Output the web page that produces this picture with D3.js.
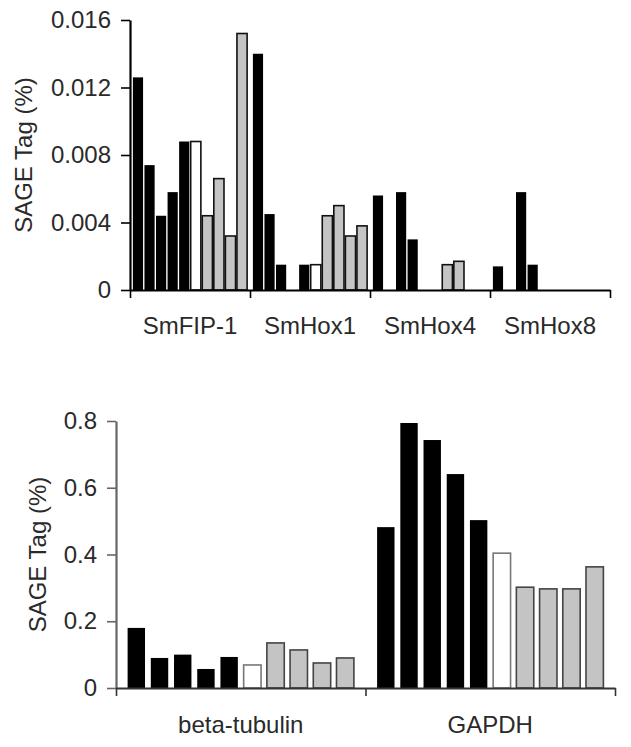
<!DOCTYPE html>
<html>
<head>
<meta charset="utf-8">
<script src="https://cdn.jsdelivr.net/npm/d3@7"></script>
<style>
  html, body { margin: 0; padding: 0; background: #fff; }
  svg { display: block; }
  text { font-family: "Liberation Sans", Arial, sans-serif; }
</style>
</head>
<body>
<svg id="chart" width="631" height="747"></svg>
<script>
// ---- Data ----
const topGenes = ["SmFIP-1", "SmHox1", "SmHox4", "SmHox8"];
const bottomGenes = ["beta-tubulin", "GAPDH"];
const sampleKinds = ["black", "black", "black", "black", "black", "white", "gray", "gray", "gray", "gray"];

const smFIP1 = [0.0126, 0.0074, 0.0044, 0.0058, 0.0088, 0.0088, 0.0044, 0.0066, 0.0032, 0.0152];
const smHox1 = [0.0140, 0.0045, 0.0015, 0, 0.0015, 0.0015, 0.0044, 0.0050, 0.0032, 0.0038];
const smHox4 = [0.0056, 0, 0.0058, 0.0030, 0, 0, 0.0015, 0.0017, 0, 0];
const smHox8 = [0.0014, 0, 0.0058, 0.0015, 0, 0, 0, 0, 0, 0];

const betaTubulin = [0.18, 0.09, 0.10, 0.057, 0.093, 0.069, 0.135, 0.114, 0.075, 0.09];
const gapdh = [0.482, 0.794, 0.743, 0.641, 0.503, 0.404, 0.302, 0.297, 0.297, 0.363];

const topTicks = [0, 0.004, 0.008, 0.012, 0.016];
const topTickLabels = ["0", "0.004", "0.008", "0.012", "0.016"];
const bottomTicks = [0, 0.2, 0.4, 0.6, 0.8];
const bottomTickLabels = ["0", "0.2", "0.4", "0.6", "0.8"];
const yLabel = "SAGE Tag (%)";

const topValues = [smFIP1, smHox1, smHox4, smHox8];
const bottomValues = [betaTubulin, gapdh];

// ---- Styles ----
const fills = { black: "#000", white: "#fff", gray: "#c4c4c4" };
const textColor = "#2a2a2a";
const svg = d3.select("#chart");

function panel(opts) {
  const { genes, values, ticks, tickLabels, x0, x1, yTop, yZero, yMax,
          innerPadIn, innerPadOut, axisColor, yAxisColor, labelBaseline, yLabelX, barStroke, whiteStroke } = opts;
  const g = svg.append("g");
  const xg = d3.scaleBand().domain(genes).range([x0, x1]).paddingInner(0).paddingOuter(0);
  const xs = d3.scaleBand().domain(d3.range(10)).range([0, xg.bandwidth()])
               .paddingInner(innerPadIn).paddingOuter(innerPadOut);
  const y = d3.scaleLinear().domain([0, yMax]).range([yZero, yTop]);

  const rows = [];
  genes.forEach((gene, gi) => values[gi].forEach((v, i) => rows.push({ gene, i, v, kind: sampleKinds[i] })));

  g.append("g").selectAll("rect")
    .data(rows.filter(d => d.v > 0))
    .join("rect")
    .attr("x", d => xg(d.gene) + xs(d.i))
    .attr("width", xs.bandwidth())
    .attr("y", d => y(d.v))
    .attr("height", d => yZero - y(d.v))
    .attr("fill", d => fills[d.kind])
    .attr("stroke", d => d.kind === "black" ? "#000" : (d.kind === "white" ? whiteStroke : barStroke))
    .attr("stroke-width", d => d.kind === "black" ? 0 : 1.6);

  // y axis
  const ya = d3.axisLeft(y).tickValues(ticks).tickFormat((d, i) => tickLabels[i])
    .tickSize(9).tickSizeOuter(0).tickPadding(10);
  const yAx = g.append("g").attr("transform", `translate(${x0},0)`).call(ya);
  yAx.select(".domain").attr("stroke", yAxisColor).attr("stroke-width", 2.2);
  yAx.selectAll(".tick line").attr("stroke", yAxisColor).attr("stroke-width", 1.6);
  yAx.selectAll(".tick text").attr("fill", textColor).style("font-size", "24px")
     .style("font-family", "'Liberation Sans', Arial, sans-serif");

  // x axis: boundaries + labels
  const xb = d3.scaleLinear().domain([0, genes.length]).range([x0, x1]);
  const xa = d3.axisBottom(xb).ticks(genes.length).tickFormat("").tickSize(8).tickSizeOuter(0);
  const xAx = g.append("g").attr("transform", `translate(0,${yZero})`).call(xa);
  xAx.select(".domain").attr("stroke", axisColor).attr("stroke-width", 2.2);
  xAx.selectAll(".tick line").attr("stroke", axisColor).attr("stroke-width", 1.6);

  g.append("g").selectAll("text")
    .data(genes)
    .join("text")
    .attr("x", d => xg(d) + xg.bandwidth() / 2)
    .attr("y", labelBaseline)
    .attr("text-anchor", "middle")
    .attr("fill", textColor)
    .style("font-size", "24px")
    .text(d => d);

  g.append("text")
    .attr("transform", `translate(${yLabelX},${(yTop + yZero) / 2}) rotate(-90)`)
    .attr("text-anchor", "middle")
    .attr("fill", textColor)
    .style("font-size", "24px")
    .text(yLabel);
}

panel({
  genes: topGenes, values: topValues, ticks: topTicks, tickLabels: topTickLabels,
  x0: 130, x1: 610, yTop: 20, yZero: 290, yMax: 0.016,
  innerPadIn: 0.12, innerPadOut: 0.25, axisColor: "#000", yAxisColor: "#000",
  labelBaseline: 334, yLabelX: 32, barStroke: "#111", whiteStroke: "#111"
});

panel({
  genes: bottomGenes, values: bottomValues, ticks: bottomTicks, tickLabels: bottomTickLabels,
  x0: 116, x1: 615, yTop: 421, yZero: 688, yMax: 0.8,
  innerPadIn: 0.25, innerPadOut: 0.5, axisColor: "#333", yAxisColor: "#666",
  labelBaseline: 733, yLabelX: 46, barStroke: "#444", whiteStroke: "#777"
});
</script>
</body>
</html>
